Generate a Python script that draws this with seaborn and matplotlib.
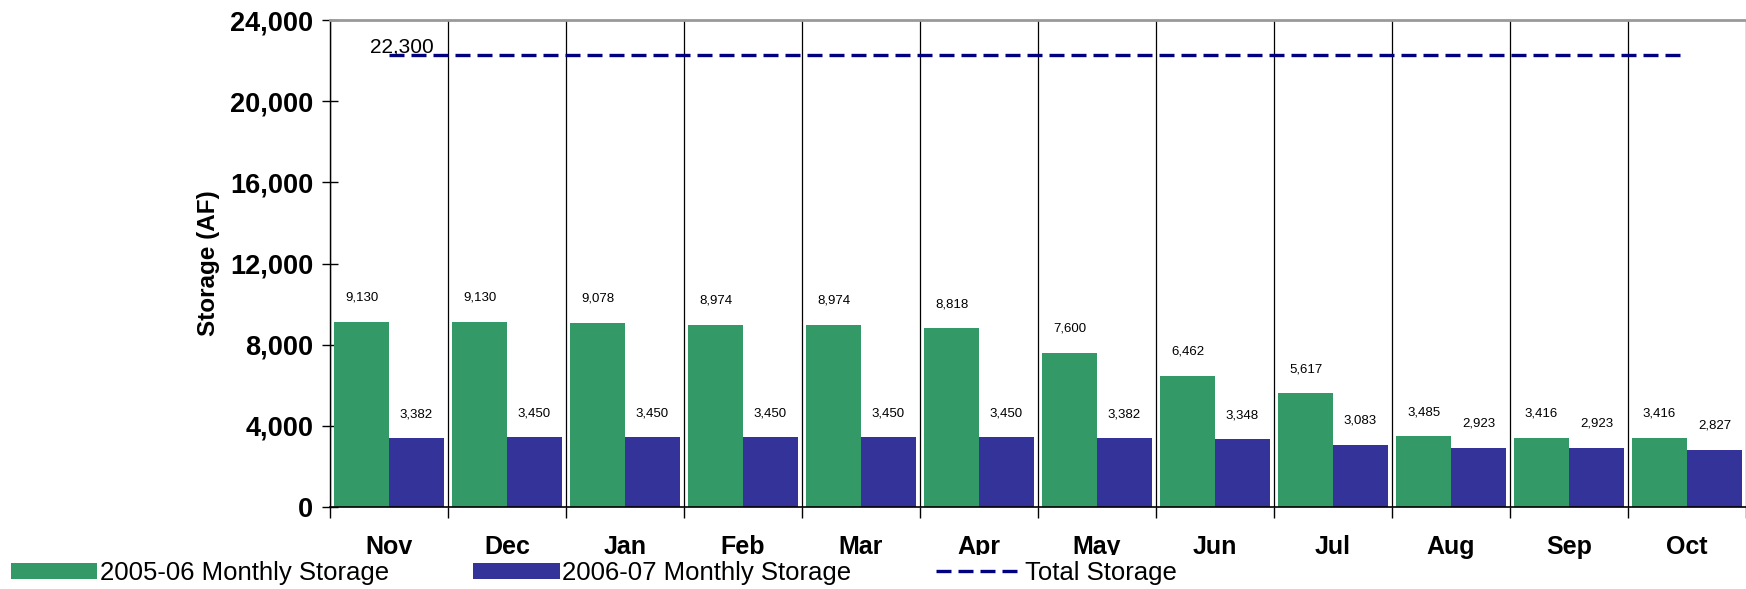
import matplotlib
matplotlib.use("Agg")
import matplotlib.pyplot as plt
import seaborn as sns
import pandas as pd
import numpy as np
from matplotlib.patches import Patch
from matplotlib.lines import Line2D
from matplotlib.ticker import FuncFormatter

# Data
months = ["Nov", "Dec", "Jan", "Feb", "Mar", "Apr", "May", "Jun", "Jul", "Aug", "Sep", "Oct"]
storage_0506 = [9130, 9130, 9078, 8974, 8974, 8818, 7600, 6462, 5617, 3485, 3416, 3416]
storage_0607 = [3382, 3450, 3450, 3450, 3450, 3450, 3382, 3348, 3083, 2923, 2923, 2827]
total_storage = [22300] * 12
series_names = ["2005-06 Monthly Storage", "2006-07 Monthly Storage"]

green = "#339966"
blue = "#333399"
navy = "#000080"

df = pd.DataFrame({
    "month": months * 2,
    "storage": storage_0506 + storage_0607,
    "series": [series_names[0]] * 12 + [series_names[1]] * 12,
})

sns.set_style("white")
plt.rcParams["font.family"] = ["Liberation Sans", "DejaVu Sans"]
plt.rcParams.update({"text.color": "black", "axes.labelcolor": "black",
                     "xtick.color": "black", "ytick.color": "black"})

fig = plt.figure(figsize=(17.46, 5.89), dpi=100)
ax = fig.add_axes([0.189, 0.139, 0.811, 0.827])

sns.barplot(data=df, x="month", y="storage", hue="series", order=months,
            hue_order=series_names, palette=[green, blue], width=0.93,
            gap=0, legend=False, ax=ax, saturation=1, linewidth=0)

# value labels
for cont, vals in zip(ax.containers, [storage_0506, storage_0607]):
    ax.bar_label(cont, labels=[f"{v:,}" for v in vals], padding=13, fontsize=9.5)

# total storage line
sns.lineplot(x=np.arange(len(months)), y=total_storage, color=navy, linewidth=2.4,
             ax=ax, legend=False)
ax.lines[-1].set_dashes((4.5, 2.1))
ax.text(0.11, total_storage[0] + 120, f"{total_storage[0]:,}", ha="center",
        va="baseline", fontsize=15)

ax.set_xlim(-0.5, len(months) - 0.5)
ax.set_ylim(0, 24000)
ax.set_yticks(np.arange(0, 24001, 4000))
ax.yaxis.set_major_formatter(FuncFormatter(lambda v, p: f"{int(v):,}"))
for t in ax.get_yticklabels():
    t.set_fontweight("bold")
ax.tick_params(axis="y", direction="inout", length=12, width=1, pad=6,
               labelsize=19.5, left=True, color="black")

# month labels and separators
ax.set_xticks(np.arange(len(months)))
ax.set_xticklabels(months, fontsize=18, fontweight="bold")
ax.tick_params(axis="x", which="major", length=0, pad=20)
ax.set_xticks(np.arange(-0.5, len(months), 1), minor=True)
ax.tick_params(axis="x", which="minor", direction="out", length=8, width=1,
               color="black", bottom=True)
ax.grid(False)
ax.grid(True, axis="x", which="minor", color="black", linewidth=0.9)
ax.set_axisbelow(True)

ax.set_xlabel("")
ax.set_ylabel("Storage (AF)", fontsize=17.5, fontweight="bold")
ax.yaxis.set_label_coords(-0.078, 0.5)

ax.spines["right"].set_visible(False)
ax.spines["top"].set_color("#999999")
ax.spines["top"].set_linewidth(2)
ax.spines["left"].set_color("black")
ax.spines["bottom"].set_color("black")
ax.spines["left"].set_linewidth(1)
ax.spines["bottom"].set_linewidth(1.2)

handles = [
    Patch(facecolor=green, edgecolor="none"),
    Patch(facecolor=blue, edgecolor="none"),
    Line2D([0], [0], color=navy, linewidth=2.4, dashes=(4.5, 2.1)),
]
labels = series_names + ["Total Storage"]
leg = fig.legend(handles, labels, loc="center left", bbox_to_anchor=(0.003, 0.027),
                 ncol=3, fontsize=18.5, handlelength=3.35, handleheight=0.6,
                 handletextpad=0.1, columnspacing=3.3, borderaxespad=0,
                 borderpad=0.22, frameon=True, fancybox=False, framealpha=1)
leg.get_frame().set_facecolor("white")
leg.get_frame().set_edgecolor("none")

fig.savefig("out.png", dpi=100)
